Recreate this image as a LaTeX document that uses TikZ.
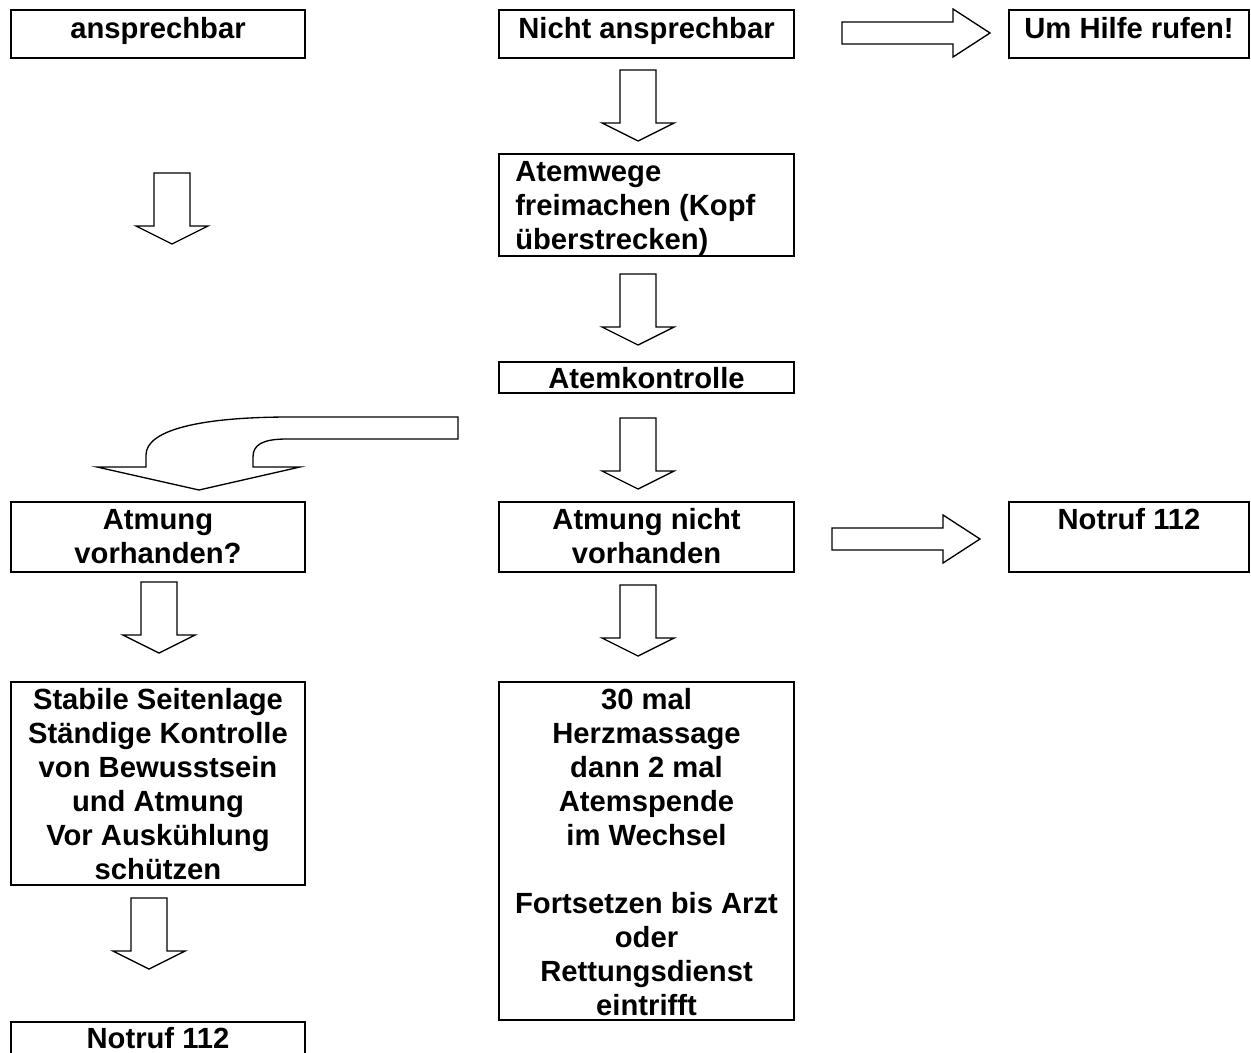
\documentclass[tikz,border=0pt]{standalone}
\usepackage{fontspec}
\setmainfont{Liberation Sans}
\usetikzlibrary{fit}
\tikzset{
  box/.style={draw, line width=1.5pt, inner sep=0pt},
  txt/.style={inner sep=0pt, anchor=north, align=center, font=\fontsize{21.9}{25.5}\selectfont\bfseries},
  arrowline/.style={draw, line width=1pt, fill=white, line join=miter},
  downarr/.pic={\path[arrowline] (-18,0) -- (18,0) -- (18,53) -- (36,53) -- (0,71) -- (-36,53) -- (-18,53) -- cycle;},
  rightarr/.pic={\path[arrowline] (0,-11) -- (111,-11) -- (111,-24) -- (148,0) -- (111,24) -- (111,11) -- (0,11) -- cycle;},
}
\begin{document}
\begin{tikzpicture}[x=0.75pt, y=-0.75pt]
  \useasboundingbox (0,0) rectangle (1251,1052);
  \clip (0,0) rectangle (1251,1052);
  \fill[white] (0,0) rectangle (1251,1052);

  % boxes
  \node[box, fit={(11,10) (305,58)}] (b1) {};
  \node[box, fit={(499,10) (794,58)}] (b2) {};
  \node[box, fit={(1009,10) (1249,58)}] (b3) {};
  \node[box, fit={(499,154) (794,256)}] (b4) {};
  \node[box, fit={(499,362) (794,393)}] (b5) {};
  \node[box, fit={(11,502) (305,572)}] (b6) {};
  \node[box, fit={(499,502) (794,572)}] (b7) {};
  \node[box, fit={(1009,502) (1249,572)}] (b8) {};
  \node[box, fit={(11,682) (305,885)}] (b9) {};
  \node[box, fit={(499,682) (794,1020)}] (b10) {};
  \node[box, fit={(11,1022) (305,1080)}] (b11) {};

  % texts
  \node[txt] (t1) at (158,14) {\strut ansprechbar};
  \node[txt] (t2) at (646.5,14) {\strut Nicht ansprechbar};
  \node[txt] (t3) at (1129,14) {\strut Um Hilfe rufen!};
  \node[txt, anchor=north west, align=left] (t4) at (515,157) {\strut Atemwege\\freimachen (Kopf\\überstrecken)};
  \node[txt] (t5) at (646.5,364) {\strut Atemkontrolle};
  \node[txt] (t6) at (158,505) {\strut Atmung\\vorhanden?};
  \node[txt] (t7) at (646.5,505) {\strut Atmung nicht\\vorhanden};
  \node[txt] (t8) at (1129,505) {\strut Notruf 112};
  \node[txt] (t9) at (158,685) {\strut Stabile Seitenlage\\Ständige Kontrolle\\von Bewusstsein\\und Atmung\\Vor Auskühlung\\schützen};
  \node[txt] (t10) at (646.5,685) {\strut 30 mal\\Herzmassage\\dann 2 mal\\Atemspende\\im Wechsel\\[25.5pt]Fortsetzen bis Arzt\\oder\\Rettungsdienst\\eintrifft};
  \node[txt, anchor=base] (t11) at (158,1048) {Notruf 112};

  % block arrows
  \pic (r1) at (842,33) {rightarr};
  \pic (r2) at (832,539) {rightarr};
  \pic (a1) at (172,173) {downarr};
  \pic (a2) at (638,70) {downarr};
  \pic (a3) at (638,274) {downarr};
  \pic (a4) at (638,418) {downarr};
  \pic (a5) at (638,585) {downarr};
  \pic (a6) at (159,582) {downarr};
  \pic (a7) at (149,898) {downarr};

  % curved block arrow
  \path[arrowline] (458,417) -- (290,417)
    .. controls (200,417) and (146,430) .. (146,455)
    -- (146,467) -- (97,467) -- (199,490) -- (300,467) -- (253,467) -- (253,457)
    .. controls (253,445) and (262,439) .. (287,439)
    -- (458,439) -- cycle;
\end{tikzpicture}
\end{document}
